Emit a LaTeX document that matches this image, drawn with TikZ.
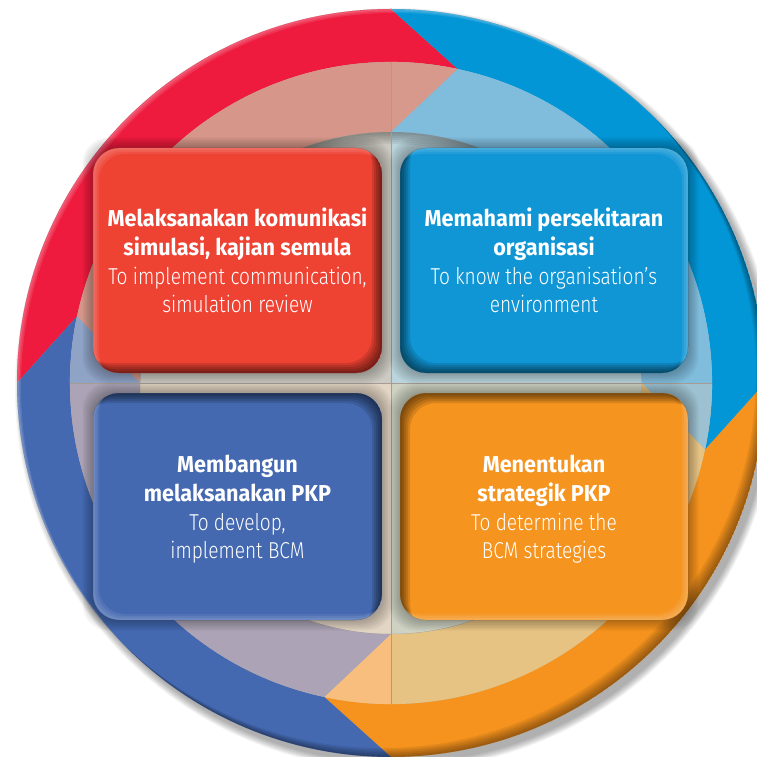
\documentclass[tikz,border=0pt]{standalone}
\usepackage{fontspec}
\usetikzlibrary{calc}
\setmainfont{Fira Sans}
\newfontfamily\boldf{Fira Sans}[FakeStretch=0.94]
\newfontfamily\lightf{Fira Sans Light}[FakeStretch=0.83]
\newcommand\bl{\boldf\bfseries\strut}
\newcommand\lt{\lightf\strut}

\definecolor{ringRed}{HTML}{EE1B3E}
\definecolor{ringBlue}{HTML}{0396D6}
\definecolor{ringOrange}{HTML}{F5931E}
\definecolor{ringDBlue}{HTML}{4469B1}
\definecolor{pinkUL}{HTML}{D6978A}
\definecolor{pinkUR}{HTML}{D6998B}
\definecolor{lbUR}{HTML}{80BDDD}
\definecolor{lbLR}{HTML}{9DC1D0}
\definecolor{tanLR}{HTML}{E6C283}
\definecolor{peachLL}{HTML}{F8BE7D}
\definecolor{lavLL}{HTML}{ACA4B6}
\definecolor{bgUL}{HTML}{8FA3C6}
\definecolor{inUL}{HTML}{CCCAC2}
\definecolor{inUR}{HTML}{BAD5DD}
\definecolor{inLL}{HTML}{E2D5C4}
\definecolor{inLR}{HTML}{CDD2C3}
\definecolor{boxRed}{HTML}{EE4233}
\definecolor{boxBlue}{HTML}{1196D5}
\definecolor{boxDBlue}{HTML}{4469B0}
\definecolor{boxOrange}{HTML}{F5941F}
\definecolor{crossline}{HTML}{A69C94}

\tikzset{
  boxshape/.style={rounded corners=26pt, inner sep=0pt, outer sep=0pt},
  txt/.style={text=white, align=center, inner sep=0pt, font=\fontsize{23}{28.7}\selectfont},
}

\begin{document}
\begin{tikzpicture}[x=1pt,y=1pt]
\useasboundingbox (0,0) rectangle (757,756);
\fill[white] (0,0) rectangle (757,756);
\begin{scope}[shift={(391,373)}]
  % drop shadow of the disc
  \foreach \k in {0,...,7} \fill[black,opacity=0.045] (5,-6) circle[radius={(374+\k)*1pt}];
  % ring segments
  \foreach \B/\oc/\mc/\tc/\qx/\qy in {180/ringRed/pinkUL/pinkUR/1/1, 90/ringBlue/lbUR/lbLR/1/-1, 0/ringOrange/tanLR/peachLL/-1/-1, 270/ringDBlue/lavLL/bgUL/-1/1}{
    \pgfmathsetmacro\F{\B-90}
    \pgfmathsetmacro\Ft{\B-102}
    \pgfmathsetmacro\Bt{\B-12}
    \fill[\oc] (\B:374pt) arc[start angle=\B, end angle=\F, radius=374pt] -- (\Ft:321pt) arc[start angle=\Ft, end angle=\Bt, radius=321pt] -- cycle;
    \fill[\mc] (\Ft:321pt) -- (\F:251pt) arc[start angle=\F, end angle=\B, radius=251pt] -- (\Bt:321pt) arc[start angle=\Bt, end angle=\Ft, radius=321pt] -- cycle;
    \begin{scope}
      \clip (0,0) rectangle ({\qx*400},{\qy*400});
      \fill[\tc] (\Ft:321pt) -- (\F:251pt) arc[start angle=\F, end angle=\B, radius=251pt] -- (\Bt:321pt) arc[start angle=\Bt, end angle=\Ft, radius=321pt] -- cycle;
    \end{scope}
  }
  % inner disc
  \fill[inUR] (0,0) -- (0:251pt) arc[start angle=0,end angle=90,radius=251pt] -- cycle;
  \fill[inUL] (0,0) -- (90:251pt) arc[start angle=90,end angle=180,radius=251pt] -- cycle;
  \fill[inLL] (0,0) -- (180:251pt) arc[start angle=180,end angle=270,radius=251pt] -- cycle;
  \fill[inLR] (0,0) -- (270:251pt) arc[start angle=270,end angle=360,radius=251pt] -- cycle;
  \begin{scope}
    \clip (0,0) circle[radius=251pt];
    \foreach \k in {1,...,6} \fill[black,opacity=0.06,even odd rule] (0,0) circle[radius=251pt] (0,{-2*\k}) circle[radius=251pt];
  \end{scope}
  % faint cross
  \draw[crossline, line width=0.7pt] (0,-321) -- (0,321);
  \draw[crossline, line width=0.7pt] (-321,0) -- (321,0);
  % bevel of the outer disc
  \begin{scope}
    \clip (0,0) circle[radius=374pt];
    \foreach \k in {1,...,6} \fill[black,opacity=0.07,even odd rule] (0,0) circle[radius=374pt] ({-1.5*\k},{1.5*\k}) circle[radius=374pt];
    \foreach \k in {1,...,3} \fill[white,opacity=0.1,even odd rule] (0,0) circle[radius=374pt] ({1.3*\k},{-1.3*\k}) circle[radius=374pt];
  \end{scope}
\end{scope}

% boxes
\foreach \n/\xa/\ya/\xb/\yb/\c/\dx/\dy in {
  boxR/93/383/382/608/boxRed/1/-1,
  boxB/400/383/688/608/boxBlue/-1/-1,
  boxD/93/136/382/363/boxDBlue/1/1,
  boxO/400/136/688/363/boxOrange/-1/1}{
  \pgfmathsetmacro\w{\xb-\xa}
  \pgfmathsetmacro\h{\yb-\ya}
  \foreach \k in {1,...,7} \fill[black,opacity=0.04,rounded corners=26pt] ({\xa-1.5*\k},{\ya-1.5*\k}) rectangle ({\xb+1.5*\k},{\yb+1.5*\k});
  \node[boxshape, fill=\c, minimum width=\w pt, minimum height=\h pt] (\n) at ({(\xa+\xb)/2},{(\ya+\yb)/2}) {};
  \begin{scope}
    \clip[rounded corners=26pt] (\xa,\ya) rectangle (\xb,\yb);
    \foreach \k in {1,...,5} \fill[black,opacity=0.12,rounded corners=26pt,even odd rule] (\xa,\ya) rectangle (\xb,\yb) ({\xa-2*\k*\dx},{\ya-2*\k*\dy}) rectangle ({\xb-2*\k*\dx},{\yb-2*\k*\dy});
    \foreach \k in {1,...,3} \fill[white,opacity=0.08,rounded corners=26pt,even odd rule] (\xa,\ya) rectangle (\xb,\yb) ({\xa+2*\k*\dx},{\ya+2*\k*\dy}) rectangle ({\xb+2*\k*\dx},{\yb+2*\k*\dy});
  \end{scope}
}

\node[txt] (tR) at ($(boxR)+(0,-3.5)$) {\bl Melaksanakan komunikasi\\\bl simulasi, kajian semula\\\lt To implement communication,\\\lt simulation review};
\node[txt] (tB) at ($(boxB)+(0,-3.5)$) {\bl Memahami persekitaran\\\bl organisasi\\\lt To know the organisation’s\\\lt environment};
\node[txt] (tD) at ($(boxD)+(0,-3.5)$) {\bl Membangun\\\bl melaksanakan PKP\\\lt To develop,\\\lt implement BCM};
\node[txt] (tO) at ($(boxO)+(0,-3.5)$) {\bl Menentukan\\\bl strategik PKP\\\lt To determine the\\\lt BCM strategies};
\end{tikzpicture}
\end{document}
